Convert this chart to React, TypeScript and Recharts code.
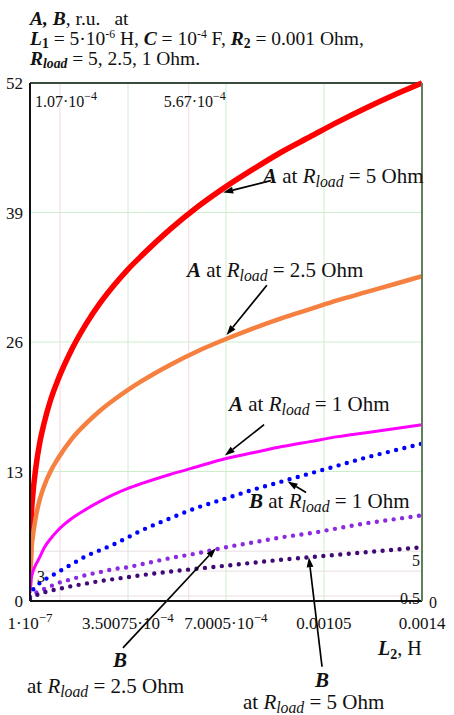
import React from "react";
import { LineChart, Line, XAxis, YAxis, CartesianGrid, ReferenceLine } from "recharts";

// L2, H — sample points
const L2 = [
  1e-7, 5e-6, 1e-5, 2e-5, 3.5e-5, 5e-5, 7.5e-5, 1e-4, 1.5e-4, 2e-4, 2.5e-4, 3e-4,
  3.5e-4, 4e-4, 5e-4, 6e-4, 7e-4, 8e-4, 9e-4, 1e-3, 1.1e-3, 1.2e-3, 1.3e-3, 1.4e-3,
];
const A_5 = [2.5, 8.5, 10.6, 13.2, 15.9, 17.8, 20.3, 22.2, 25.3, 27.8, 29.9, 31.7, 33.3, 34.7, 37.3, 39.6, 41.6, 43.4, 45.1, 46.6, 48.1, 49.5, 50.8, 52];
const A_25 = [1.5, 5.0, 6.4, 8.3, 10.2, 11.5, 13.1, 14.3, 16.3, 17.8, 19.1, 20.2, 21.2, 22.1, 23.7, 25.1, 26.3, 27.4, 28.4, 29.3, 30.2, 31.0, 31.8, 32.6];
const A_1 = [0.8, 2.3, 2.9, 3.6, 4.4, 5.3, 6.3, 7.1, 8.3, 9.2, 10.0, 10.7, 11.3, 11.8, 12.7, 13.5, 14.3, 14.9, 15.5, 16.0, 16.5, 16.9, 17.3, 17.7];
const B_1 = [0.4, 0.9, 1.1, 1.4, 1.8, 2.1, 2.5, 2.9, 3.7, 4.5, 5.1, 5.7, 6.4, 7.1, 8.3, 9.4, 10.3, 11.2, 12.0, 12.8, 13.6, 14.4, 15.1, 15.8];
const B_25 = [0.3, 0.5, 0.6, 0.8, 1.0, 1.2, 1.5, 1.8, 2.2, 2.6, 2.9, 3.2, 3.4, 3.7, 4.3, 4.8, 5.4, 5.9, 6.4, 6.8, 7.3, 7.8, 8.2, 8.6];
const B_5 = [0.2, 0.3, 0.4, 0.55, 0.7, 0.85, 1.05, 1.2, 1.5, 1.75, 2.0, 2.2, 2.4, 2.6, 2.95, 3.25, 3.55, 3.85, 4.15, 4.4, 4.65, 4.9, 5.15, 5.4];

const xTicks = [1e-7, 3.50075e-4, 7.0005e-4, 0.00105, 0.0014];
const xTickText = ["1·10", "3.50075·10", "7.0005·10", "0.00105", "0.0014"];
const xTickExp = ["−7", "−4", "−4", "", ""];
const yTicks = [0, 13, 26, 39, 52];
const yTicksRight = [13, 26, 39, 52];
const xMarkers = [1.07e-4, 5.67e-4];
const xMarkerText = ["1.07·10", "5.67·10"];
const xMarkerExp = ["−4", "−4"];
const yMarkers = [3, 5, 0.5];

// arrows: [tail, tip] in data units
const arrows = [
  [[8.6e-4, 42.2], [6.9e-4, 41.0]],
  [[8.46e-4, 31.7], [7.02e-4, 26.7]],
  [[8.36e-4, 17.7], [6.96e-4, 14.6]],
  [[9.86e-4, 10.9], [9.2e-4, 12.0]],
  [[3.32e-4, -4.7], [6.64e-4, 5.3]],
  [[1.043e-3, -6.6], [9.96e-4, 4.4]],
];

const data = L2.map((l, i) => ({
  l,
  a5: A_5[i],
  a25: A_25[i],
  a1: A_1[i],
  b1: B_1[i],
  b25: B_25[i],
  b5: B_5[i],
}));

const SERIF = "'Liberation Serif', 'DejaVu Serif', serif";

const XTick = ({ x, y, payload }: any) => {
  const i = xTicks.indexOf(payload.value);
  return (
    <text x={x} y={y + 20} textAnchor="middle" fontFamily={SERIF} fontSize={17} fill="#111">
      {xTickText[i]}
      {xTickExp[i] && (
        <tspan dy={-7} fontSize={13}>
          {xTickExp[i]}
        </tspan>
      )}
    </text>
  );
};

const LeftTick = ({ x, y, payload }: any) => (
  <text x={x + 1} y={y + 6} textAnchor="end" fontFamily={SERIF} fontSize={17} fill="#111">
    {payload.value}
  </text>
);

const RightTick = ({ x, y, payload }: any) => (
  <text x={x - 1} y={y + 6} textAnchor="start" fontFamily={SERIF} fontSize={17} fill="#111">
    {payload.value}
  </text>
);

const ArrowShape = (props: any) => {
  const { x1, y1, x2, y2 } = props;
  if (x1 == null) return null;
  const dx = x2 - x1;
  const dy = y2 - y1;
  const len = Math.sqrt(dx * dx + dy * dy) || 1;
  const ux = dx / len;
  const uy = dy / len;
  const hl = 10;
  const hw = 3.4;
  const bx = x2 - ux * hl;
  const by = y2 - uy * hl;
  const pts = `${x2},${y2} ${bx - uy * hw},${by + ux * hw} ${bx + uy * hw},${by - ux * hw}`;
  return (
    <g>
      <line x1={x1} y1={y1} x2={bx} y2={by} stroke="#000" strokeWidth={1.7} />
      <polygon points={pts} fill="#000" />
    </g>
  );
};

const Rload = ({ rest }: { rest: string }) => (
  <>
    <tspan fontStyle="italic">R</tspan>
    <tspan fontStyle="italic" fontSize="0.75em" dy={4}>
      load
    </tspan>
    <tspan dy={-4}>{rest}</tspan>
  </>
);

const Note = ({ x, y, letter, rest }: { x: number; y: number; letter: string; rest: string }) => (
  <text x={x} y={y} fontFamily={SERIF} fontSize={21} fill="#111">
    <tspan fontWeight="bold" fontStyle="italic">
      {letter}
    </tspan>
    <tspan> at </tspan>
    <Rload rest={rest} />
  </text>
);

export default function App() {
  return (
    <div style={{ position: "absolute", left: 0, top: 0, width: 454, height: 715, background: "#fff" }}>
      <LineChart width={454} height={715} data={data} margin={{ top: 83, right: 0, bottom: 0, left: 0 }}>
        <CartesianGrid stroke="#cdeecd" strokeWidth={1} yAxisId="l" />
        <XAxis
          dataKey="l"
          type="number"
          domain={[1e-7, 0.0014]}
          ticks={xTicks}
          height={114}
          tickLine={false}
          axisLine={{ stroke: "#111", strokeWidth: 2 }}
          tick={<XTick />}
          interval={0}
          allowDataOverflow
        />
        <YAxis
          yAxisId="l"
          domain={[0, 52]}
          ticks={yTicks}
          width={30}
          tickLine={false}
          axisLine={{ stroke: "#111", strokeWidth: 2 }}
          tick={<LeftTick />}
          interval={0}
        />
        <YAxis
          yAxisId="r"
          orientation="right"
          domain={[0, 52]}
          ticks={yTicksRight}
          width={32}
          tickLine={false}
          axisLine={{ stroke: "#5f7f5f", strokeWidth: 2 }}
          tick={<RightTick />}
          interval={0}
        />
        {xMarkers.map((m, i) => (
          <ReferenceLine
            key={"xm" + i}
            yAxisId="l"
            x={m}
            stroke="#f4d8de"
            strokeWidth={1}
            label={(p: any) => (
              <text x={p.viewBox.x - 25} y={p.viewBox.y + 24} fontFamily={SERIF} fontSize={16} fill="#111">
                {xMarkerText[i]}
                <tspan dy={-7} fontSize={12}>
                  {xMarkerExp[i]}
                </tspan>
              </text>
            )}
          />
        ))}
        {yMarkers.map((m, i) => (
          <ReferenceLine key={"ym" + i} yAxisId="l" y={m} stroke="#eadfe2" strokeWidth={1} />
        ))}
        <ReferenceLine yAxisId="l" y={52} stroke="#3b4b3b" strokeWidth={2} />
        <Line yAxisId="l" dataKey="a5" type="monotone" stroke="#ff0000" strokeWidth={5.5} dot={false} isAnimationActive={false} />
        <Line yAxisId="l" dataKey="a25" type="monotone" stroke="#f5803f" strokeWidth={4.5} dot={false} isAnimationActive={false} />
        <Line yAxisId="l" dataKey="a1" type="monotone" stroke="#ff00ff" strokeWidth={3} dot={false} isAnimationActive={false} />
        <Line yAxisId="l" dataKey="b1" type="monotone" stroke="#0000ff" strokeWidth={4.4} strokeDasharray="0 8.5" strokeLinecap="round" dot={false} isAnimationActive={false} />
        <Line yAxisId="l" dataKey="b25" type="monotone" stroke="#8a2be2" strokeWidth={4.4} strokeDasharray="0 8.5" strokeLinecap="round" dot={false} isAnimationActive={false} />
        <Line yAxisId="l" dataKey="b5" type="monotone" stroke="#3f0a78" strokeWidth={4.4} strokeDasharray="0 8.5" strokeLinecap="round" dot={false} isAnimationActive={false} />
        {arrows.map((a, i) => (
          <ReferenceLine
            key={"ar" + i}
            yAxisId="l"
            segment={[
              { x: a[0][0], y: a[0][1] },
              { x: a[1][0], y: a[1][1] },
            ]}
            ifOverflow="visible"
            shape={<ArrowShape />}
          />
        ))}
      </LineChart>
      <svg width={454} height={715} style={{ position: "absolute", left: 0, top: 0, pointerEvents: "none" }}>
        <g fontFamily={SERIF} fontSize={19.5} fill="#111">
          <text x={30} y={25}>
            <tspan fontWeight="bold" fontStyle="italic">A, B</tspan>
            <tspan>, r.u.</tspan>
            <tspan dx={14}>at</tspan>
          </text>
          <text x={30} y={45}>
            <tspan fontWeight="bold" fontStyle="italic">L</tspan>
            <tspan fontWeight="bold" fontSize="0.7em" dy={3}>1</tspan>
            <tspan dy={-3}> = 5·10</tspan>
            <tspan fontSize="0.6em" dy={-7}>-6</tspan>
            <tspan dy={7}> H, </tspan>
            <tspan fontWeight="bold" fontStyle="italic">C</tspan>
            <tspan> = 10</tspan>
            <tspan fontSize="0.6em" dy={-7}>-4</tspan>
            <tspan dy={7}> F, </tspan>
            <tspan fontWeight="bold" fontStyle="italic">R</tspan>
            <tspan fontWeight="bold" fontSize="0.7em" dy={3}>2</tspan>
            <tspan dy={-3}> = 0.001 Ohm,</tspan>
          </text>
          <text x={30} y={65}>
            <tspan fontWeight="bold" fontStyle="italic">R</tspan>
            <tspan fontWeight="bold" fontStyle="italic" fontSize="0.7em" dy={3}>load</tspan>
            <tspan dy={-3}> = 5, 2.5, 1 Ohm.</tspan>
          </text>
        </g>
        <Note x={263} y={183} letter="A" rest=" = 5 Ohm" />
        <Note x={187} y={277} letter="A" rest=" = 2.5 Ohm" />
        <Note x={229} y={411} letter="A" rest=" = 1 Ohm" />
        <Note x={249} y={508} letter="B" rest=" = 1 Ohm" />
        <g fontFamily={SERIF} fontSize={21} fill="#111">
          <text x={113} y={667} fontWeight="bold" fontStyle="italic">B</text>
          <text x={27} y={693}>
            <tspan>at </tspan>
            <Rload rest=" = 2.5 Ohm" />
          </text>
          <text x={315} y={687} fontWeight="bold" fontStyle="italic">B</text>
          <text x={243} y={709}>
            <tspan>at </tspan>
            <Rload rest=" = 5 Ohm" />
          </text>
          <text x={378} y={655} fontSize={20}>
            <tspan fontWeight="bold" fontStyle="italic">L</tspan>
            <tspan fontWeight="bold" fontSize="0.7em" dy={4}>2</tspan>
            <tspan dy={-4}>, H</tspan>
          </text>
        </g>
        <g fontFamily={SERIF} fontSize={16} fill="#111">
          <text x={37} y={582}>3</text>
          <text x={412} y={566}>5</text>
          <text x={400} y={604}>0.5</text>
          <text x={429} y={608}>0</text>
        </g>
      </svg>
    </div>
  );
}
